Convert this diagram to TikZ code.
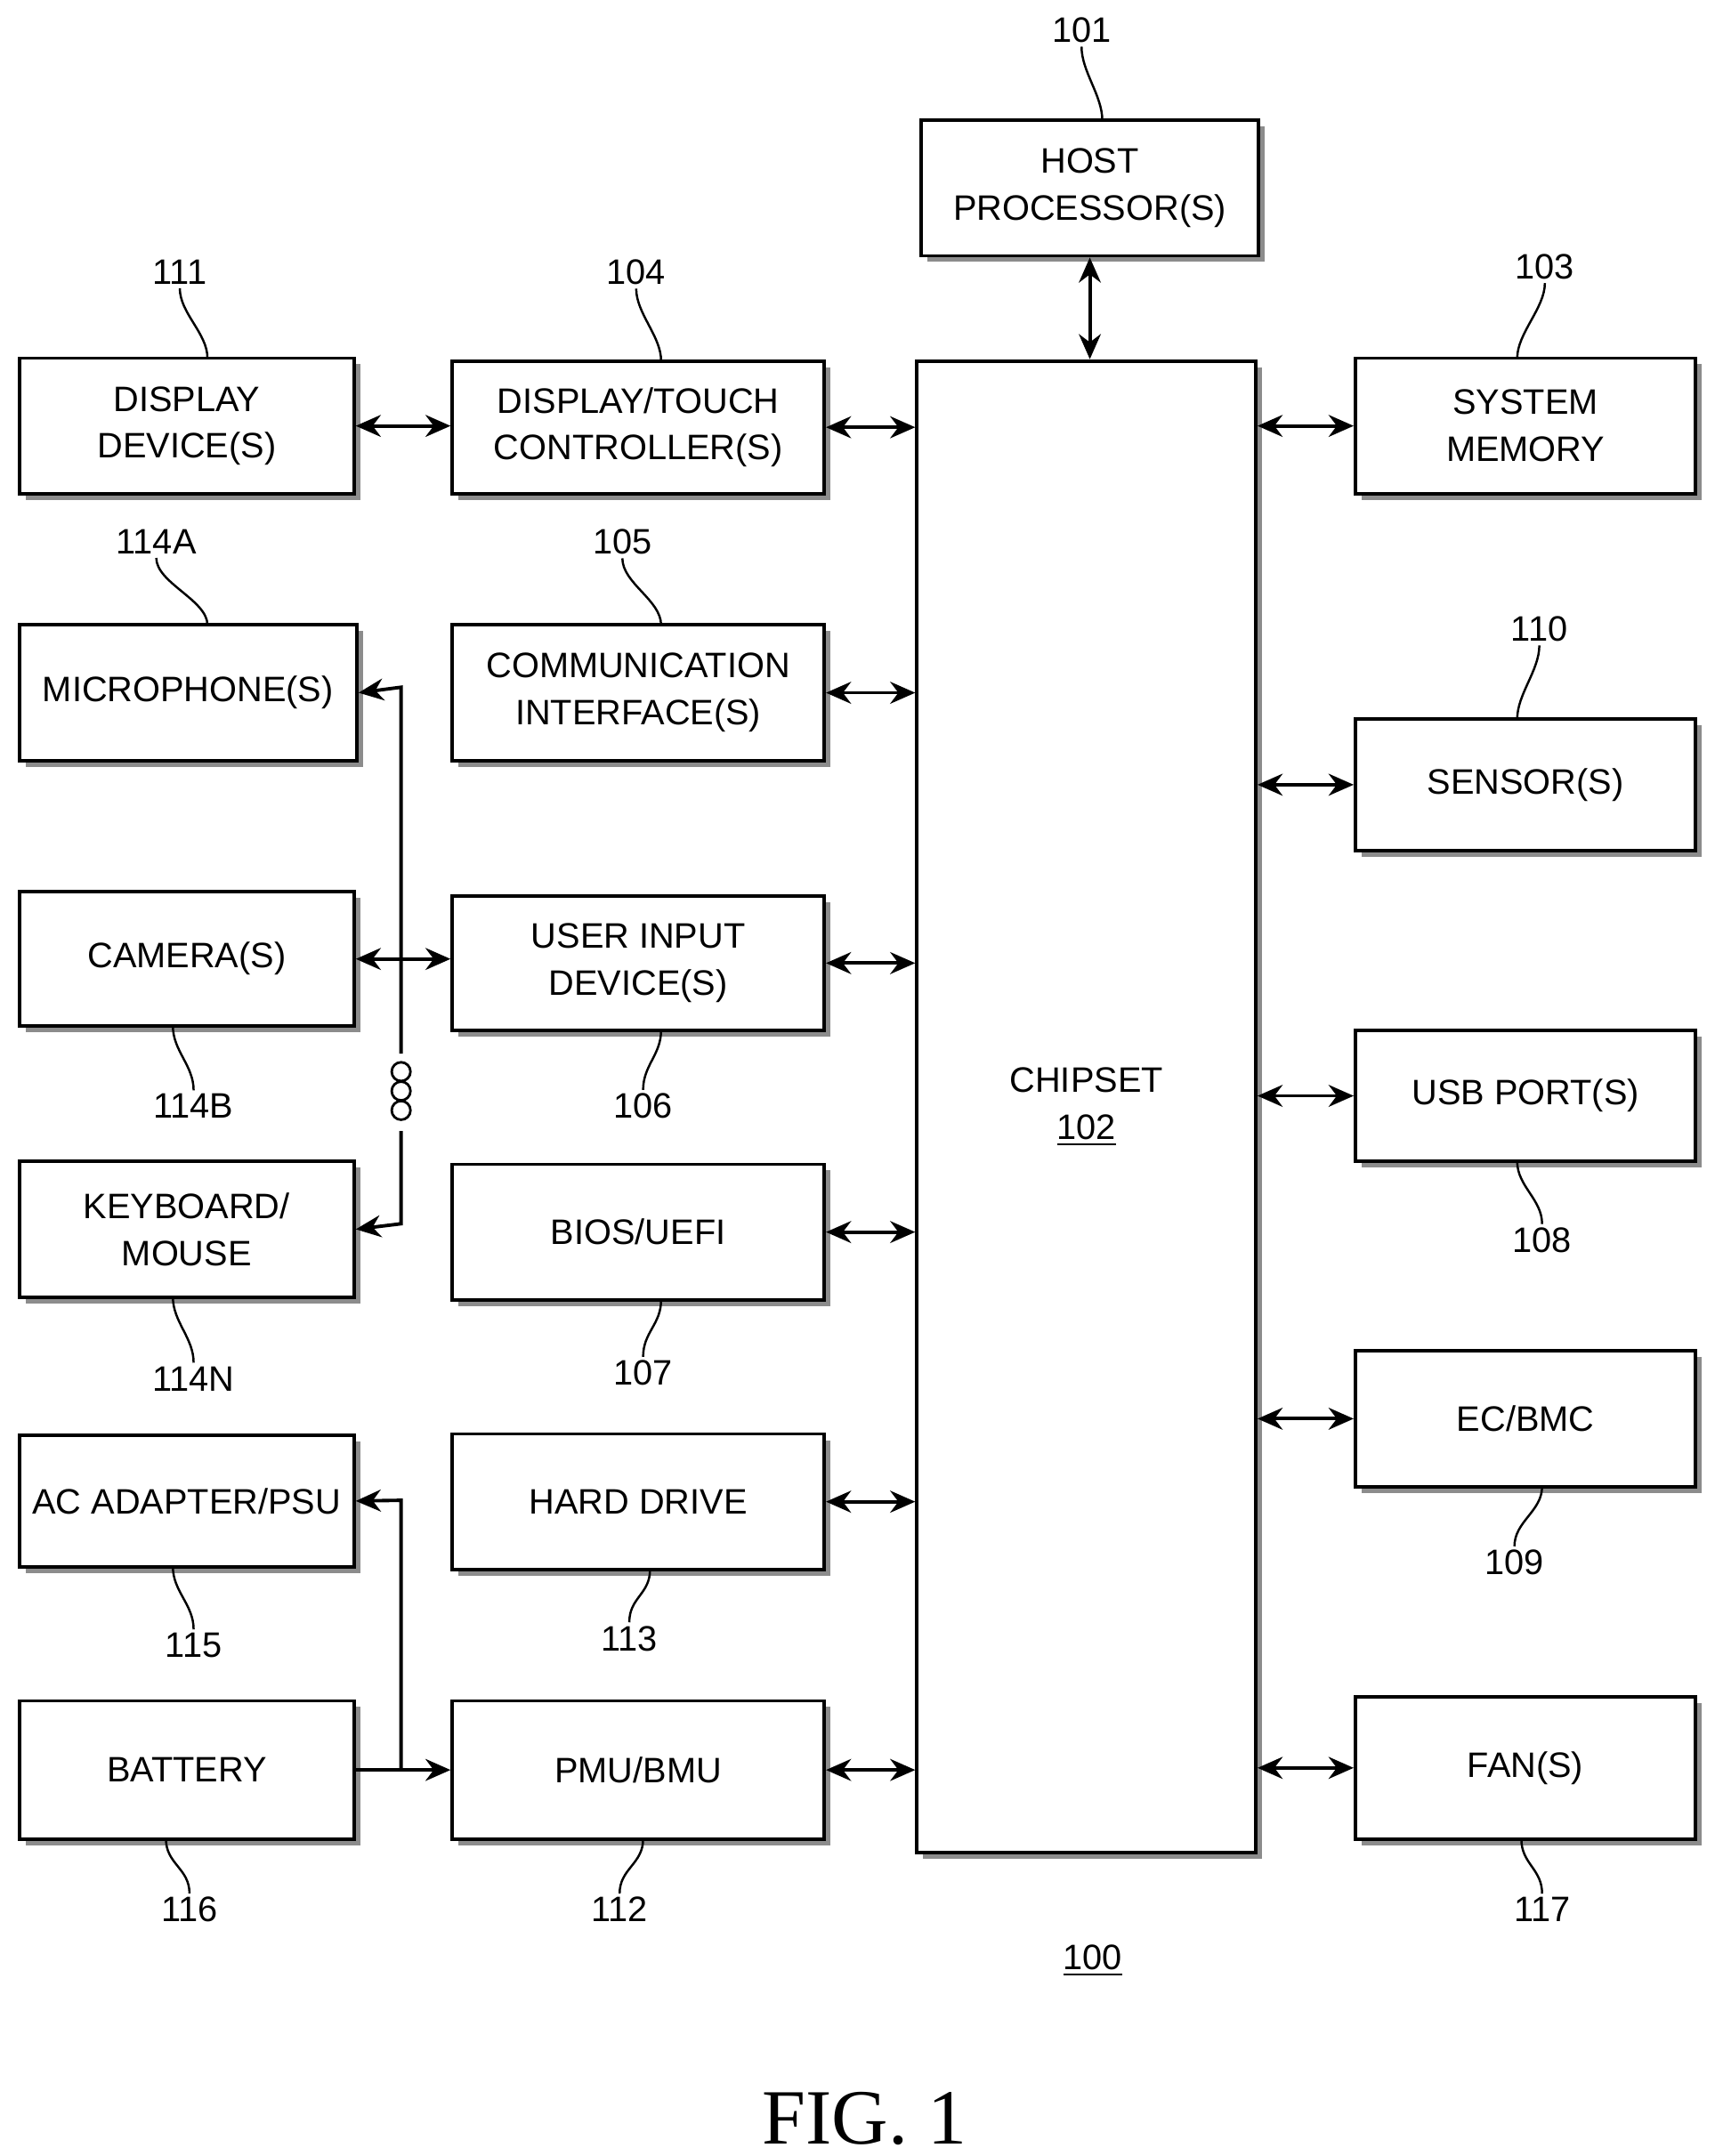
\documentclass[tikz,border=0pt]{standalone}
\usepackage{fontspec}
\setmainfont{Liberation Sans}
\newfontfamily\serifff{Liberation Serif}
\usetikzlibrary{arrows.meta,shadows}
\begin{document}
\begin{tikzpicture}[x=0.01554cm,y=-0.01554cm,
  box/.style={draw,line width=1.1pt,fill=white,align=center,inner sep=0pt,
    font=\fontsize{11.3}{15}\selectfont,
    drop shadow={shadow xshift=0.07cm,shadow yshift=-0.07cm,fill=black!45,opacity=1}},
  lab/.style={font=\fontsize{11.3}{14}\selectfont,inner sep=1pt},
  ld/.style={line width=0.7pt},
  con/.style={line width=1.1pt,{Stealth[length=8pt,width=7pt]}-{Stealth[length=8pt,width=7pt]}},
  one/.style={line width=1.1pt,-{Stealth[length=8pt,width=7pt]}}]
\newcommand\bx[6]{\node[box,minimum width={(#4-#2)*0.01554cm},minimum height={(#5-#3)*0.01554cm}] (#1) at ({(#2+#4)/2},{(#3+#5)/2}) {#6};}
\newcommand\ldr[5]{\node[lab] (#1) at (#2,#3) {#4};\coordinate (#1t) at #5;\draw[ld] (#1.south) .. controls +(0,18) and +(0,-18) .. (#1t);}
\newcommand\ldu[5]{\node[lab] (#1) at (#2,#3) {#4};\coordinate (#1t) at #5;\draw[ld] (#1.north) .. controls +(0,-18) and +(0,18) .. (#1t);}
\useasboundingbox (0,0) rectangle (1240,1559.2);
\bx{host}{666}{87}{910}{185}{HOST\\PROCESSOR(S)}
\bx{chip}{663}{261}{908}{1340}{CHIPSET\\\underline{102}}
\bx{disp}{14}{259}{256}{357}{DISPLAY\\DEVICE(S)}
\bx{dtc}{327}{261}{596}{357}{DISPLAY/TOUCH\\CONTROLLER(S)}
\bx{mem}{980}{259}{1226}{357}{SYSTEM\\MEMORY}
\bx{mic}{14}{452}{258}{550}{MICROPHONE(S)}
\bx{comm}{327}{452}{596}{550}{COMMUNICATION\\INTERFACE(S)}
\bx{sens}{980}{520}{1226}{615}{SENSOR(S)}
\bx{cam}{14}{645}{256}{742}{CAMERA(S)}
\bx{uid}{327}{648}{596}{745}{USER INPUT\\DEVICE(S)}
\bx{usb}{980}{745}{1226}{840}{USB PORT(S)}
\bx{kbd}{14}{840}{256}{938}{KEYBOARD/\\MOUSE}
\bx{bios}{327}{842}{596}{940}{BIOS/UEFI}
\bx{ec}{980}{977}{1226}{1075}{EC/BMC}
\bx{ac}{14}{1038}{256}{1133}{AC ADAPTER/PSU}
\bx{hd}{327}{1037}{596}{1135}{HARD DRIVE}
\bx{bat}{14}{1230}{256}{1330}{BATTERY}
\bx{pmu}{327}{1230}{596}{1330}{PMU/BMU}
\bx{fan}{980}{1227}{1226}{1330}{FAN(S)}
% chipset connections
\draw[con] (host.south) -- (host.south |- chip.north);
\foreach \n in {dtc,comm,uid,bios,hd,pmu}{\draw[con] (\n.east) -- (\n.east -| chip.west);}
\foreach \n in {mem,sens,usb,ec,fan}{\draw[con] (\n.west) -- (\n.west -| chip.east);}
\draw[con] (disp.east) -- (disp.east -| dtc.west);
\draw[con] (cam.east) -- (cam.east -| uid.west);
% bus for inputs
\coordinate (b1) at (290,497);
\coordinate (b2) at (290,762);
\coordinate (b3) at (290,818);
\coordinate (b4) at (290,885);
\draw[one] (b2) -- (b1) -- (mic.east);
\draw[one] (b3) -- (b4) -- (kbd.east);
\foreach \yy [count=\i] in {775,789,803}{\node[draw,circle,line width=0.8pt,minimum size=6pt,inner sep=0pt] (dot\i) at (290,\yy) {};}
% power bus
\coordinate (p1) at (290,1085);
\coordinate (p2) at (290,1280);
\draw[one] (p2) -- (p1) -- (ac.east);
\draw[line width=1.1pt] (bat.east) -- (p2);
\draw[one] (p2) -- (p2 -| pmu.west);
% labels
\ldr{l101}{782}{22}{101}{(797,87)}
\ldr{l111}{130}{197}{111}{(150,259)}
\ldr{l104}{460}{197}{104}{(478,261)}
\ldr{l103}{1117}{193}{103}{(1097,259)}
\ldr{l114a}{113}{392}{114A}{(150,452)}
\ldr{l105}{450}{392}{105}{(478,452)}
\ldr{l110}{1113}{455}{110}{(1097,520)}
\ldu{l114b}{140}{800}{114B}{(125,742)}
\ldu{l106}{465}{800}{106}{(478,745)}
\ldu{l108}{1115}{897}{108}{(1097,840)}
\ldu{l114n}{140}{997}{114N}{(125,938)}
\ldu{l107}{465}{993}{107}{(478,940)}
\ldu{l109}{1095}{1130}{109}{(1115,1075)}
\ldu{l115}{140}{1190}{115}{(125,1133)}
\ldu{l113}{455}{1185}{113}{(470,1135)}
\ldu{l116}{137}{1381}{116}{(120,1330)}
\ldu{l112}{448}{1381}{112}{(465,1330)}
\ldu{l117}{1115}{1381}{117}{(1100,1330)}
\node[lab] (l100) at (790,1418) {\underline{100}};
\node[font=\serifff\fontsize{25}{30}\selectfont] (fig) at (625,1532) {FIG. 1};
\end{tikzpicture}
\end{document}
